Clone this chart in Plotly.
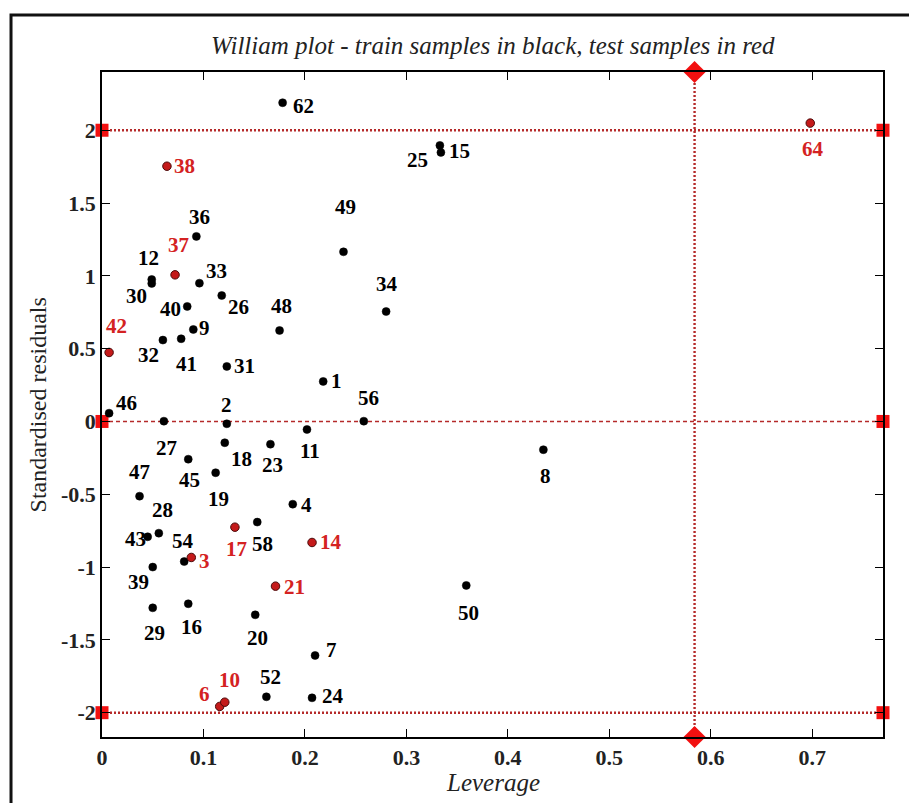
import plotly.graph_objects as go

# ---- data ----
train_ids = ["1", "2", "4", "7", "8", "9", "11", "12", "15", "16", "18", "19", "20", "23", "24", "25",
             "26", "27", "28", "29", "30", "31", "32", "33", "34", "36", "39", "40", "41", "43", "45",
             "46", "47", "48", "49", "50", "52", "54", "56", "58", "62"]
train_leverage = [0.218, 0.123, 0.188, 0.210, 0.435, 0.090, 0.202, 0.049, 0.334, 0.085, 0.121, 0.112,
                  0.151, 0.166, 0.207, 0.333, 0.118, 0.061, 0.056, 0.050, 0.049, 0.123, 0.060, 0.096,
                  0.280, 0.093, 0.050, 0.084, 0.078, 0.045, 0.085, 0.007, 0.037, 0.175, 0.238, 0.359,
                  0.162, 0.081, 0.258, 0.153, 0.178]
train_resid = [0.275, -0.016, -0.568, -1.607, -0.194, 0.632, -0.055, 0.975, 1.848, -1.252, -0.146,
               -0.352, -1.328, -0.156, -1.898, 1.896, 0.865, 0.002, -0.767, -1.280, 0.948, 0.378,
               0.559, 0.950, 0.755, 1.271, -1.000, 0.790, 0.568, -0.792, -0.259, 0.057, -0.513,
               0.625, 1.165, -1.126, -1.891, -0.962, 0.002, -0.691, 2.189]

test_ids = ["3", "6", "10", "14", "17", "21", "37", "38", "42", "64"]
test_leverage = [0.088, 0.116, 0.121, 0.207, 0.131, 0.171, 0.072, 0.064, 0.007, 0.698]
test_resid = [-0.934, -1.957, -1.928, -0.831, -0.726, -1.131, 1.007, 1.753, 0.474, 2.049]

leverage_threshold = 0.584
resid_limits = [-2, 0, 2]
x_range = [0, 0.7697]
y_range = [-2.167, 2.40]
x_ticks = [0, 0.1, 0.2, 0.3, 0.4, 0.5, 0.6, 0.7]
y_ticks = [-2, -1.5, -1, -0.5, 0, 0.5, 1, 1.5, 2]
y_ticklabels = ["-2", "-1.5", "-1", "-0.5", "0", "0.5", "1", "1.5", "2"]
x_ticklabels = ["0", "0.1", "0.2", "0.3", "0.4", "0.5", "0.6", "0.7"]

# ---- label placement (pixel offsets, style only) ----
label_offset = {
    "62": (21, 3), "38": (18, 0), "36": (3, -19), "37": (3, -30), "12": (-3, -21), "30": (-15, 13),
    "33": (17, -12), "26": (17, 11), "40": (-17, 3), "48": (2, -24), "49": (2, -45), "34": (1, -28),
    "42": (7, -26), "9": (11, -1), "32": (-14, 15), "41": (5, 25), "31": (18, 0), "25": (-22, 15),
    "15": (19, -1), "1": (13, 0), "56": (5, -23), "46": (17, -10), "27": (3, 27), "2": (0, -19),
    "11": (3, 22), "18": (17, 16), "23": (2, 21), "45": (1, 21), "19": (3, 26), "47": (0, -24),
    "4": (14, 1), "28": (4, -23), "43": (-12, 2), "54": (-1, -21), "17": (2, 22), "58": (5, 22),
    "14": (19, 0), "3": (13, 4), "39": (-14, 15), "21": (19, 1), "29": (2, 25), "16": (3, 23),
    "20": (2, 23), "7": (16, -5), "52": (4, -20), "24": (21, -2), "6": (-15, -12), "10": (5, -22),
    "8": (2, 26), "50": (2, 28), "64": (3, 26),
}

SERIF = "Liberation Serif, Times New Roman, DejaVu Serif, serif"
DOT_RED = "#b52a2a"
TXT_RED = "#d42222"
SQ_RED = "#f21010"

fig = go.Figure()

# threshold lines
for r in resid_limits:
    fig.add_shape(type="line", xref="x", yref="y", x0=x_range[0], x1=x_range[1], y0=r, y1=r,
                  line=dict(color=DOT_RED, width=1.4 if r == 0 else 2.4,
                            dash="4px,3px" if r == 0 else "2px,2px"), layer="below")
fig.add_shape(type="line", xref="x", yref="y", x0=leverage_threshold, x1=leverage_threshold,
              y0=y_range[0], y1=y_range[1], line=dict(color=DOT_RED, width=2.4, dash="2px,2px"),
              layer="below")

# limit markers
fig.add_trace(go.Scatter(x=[x_range[0]] * 3 + [x_range[1]] * 3, y=resid_limits * 2, mode="markers",
                         marker=dict(symbol="square", size=13, color=SQ_RED, line=dict(width=0)),
                         cliponaxis=False, showlegend=False, hoverinfo="skip"))
fig.add_trace(go.Scatter(x=[leverage_threshold] * 2, y=y_range, mode="markers",
                         marker=dict(symbol="diamond", size=17, color=SQ_RED, line=dict(width=0)),
                         cliponaxis=False, showlegend=False, hoverinfo="skip"))

# samples
fig.add_trace(go.Scatter(x=train_leverage, y=train_resid, mode="markers", name="train",
                         marker=dict(size=8, color="black", line=dict(width=0.5, color="black")),
                         cliponaxis=False, showlegend=False))
fig.add_trace(go.Scatter(x=test_leverage, y=test_resid, mode="markers", name="test",
                         marker=dict(size=8.5, color="#c41a1a", line=dict(width=1, color="#4a0a0a")),
                         cliponaxis=False, showlegend=False))

annotations = []
for ids, xs, ys, col in [(train_ids, train_leverage, train_resid, "black"),
                         (test_ids, test_leverage, test_resid, TXT_RED)]:
    for i, xv, yv in zip(ids, xs, ys):
        dx, dy = label_offset[i]
        annotations.append(dict(x=xv, y=yv, xref="x", yref="y", text=i, showarrow=False,
                                xshift=dx, yshift=-dy, xanchor="center", yanchor="middle",
                                font=dict(family=SERIF, size=21, color=col, weight="bold")))

annotations += [
    dict(text="William plot - train samples in black, test samples in red", xref="paper",
         yref="paper", x=0.5, y=1.0406, xanchor="center", yanchor="middle", showarrow=False,
         font=dict(family=SERIF, size=25, color="#222", style="italic")),
    dict(text="Leverage", xref="paper", yref="paper", x=0.5, y=-0.069, xanchor="center",
         yanchor="middle", showarrow=False,
         font=dict(family=SERIF, size=25, color="#222", style="italic")),
    dict(text="Standardised residuals", xref="paper", yref="paper", x=-0.082, y=0.5,
         xanchor="center", yanchor="middle", textangle=-90, showarrow=False,
         font=dict(family=SERIF, size=24, color="#222")),
]

# outer frame
fig.add_shape(type="rect", xref="paper", yref="paper", x0=-0.1165, x1=1.045, y0=-0.12, y1=1.0857,
              line=dict(color="#111", width=3), layer="above")

axis_common = dict(showgrid=False, zeroline=False, showline=True, linecolor="black", linewidth=1.5,
                   mirror="ticks", ticks="inside", ticklen=8, tickwidth=1.2, tickcolor="black",
                   tickfont=dict(family=SERIF, size=22, color="#222", weight="bold"))
fig.update_xaxes(range=x_range, tickvals=x_ticks, ticktext=x_ticklabels, **axis_common)
fig.update_yaxes(range=y_range, tickvals=y_ticks, ticktext=y_ticklabels, ticklabelstandoff=0,
                 **axis_common)

fig.update_layout(width=909, height=803, margin=dict(l=102, r=26, t=72, b=66),
                  plot_bgcolor="white", paper_bgcolor="white", annotations=annotations,
                  showlegend=False)

fig.write_html("out.html")
